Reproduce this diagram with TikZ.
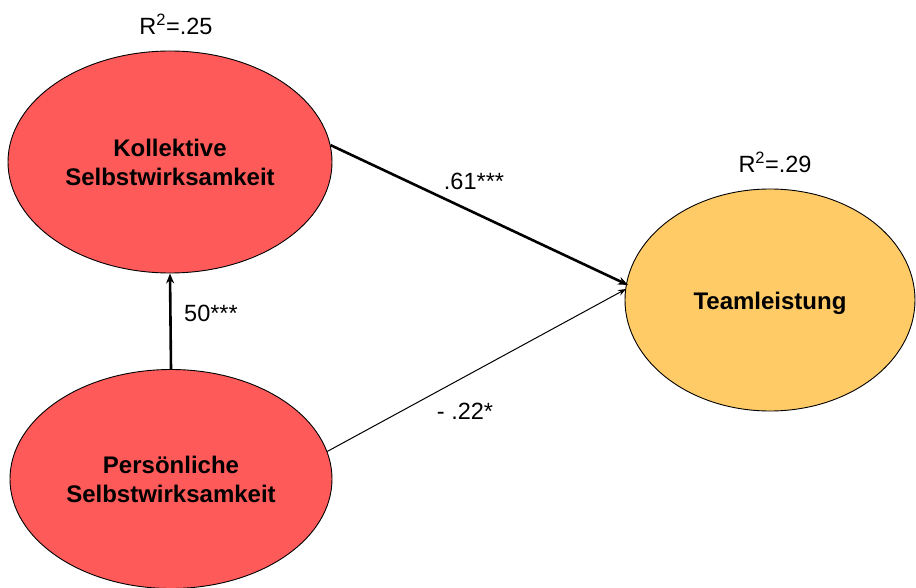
\documentclass[tikz,border=0pt]{standalone}
\usepackage{fontspec}
\setmainfont{Liberation Sans}
\usetikzlibrary{shapes.geometric,arrows.meta}
\definecolor{latentred}{RGB}{255,90,90}
\definecolor{outcomeyellow}{RGB}{254,203,102}
\tikzset{
  latent/.style={ellipse,draw=black,line width=0.9pt,inner sep=0pt,
    font=\fontsize{24}{29}\selectfont\bfseries,align=center},
  coef/.style={font=\fontsize{23.5}{28}\selectfont,inner sep=0pt},
  strongpath/.style={line width=2.6pt,-{Stealth[length=10pt,width=8pt]}},
  weakpath/.style={line width=1pt,-{Stealth[length=8pt,width=6pt]}}
}
\begin{document}
\begin{tikzpicture}[x=1pt,y=-1pt]
\useasboundingbox (0,0) rectangle (916,588);
% constructs
\node[latent,fill=latentred,minimum width=324pt,minimum height=222pt] (kol) at (170,162)
  {Kollektive\\Selbstwirksamkeit};
\node[latent,fill=latentred,minimum width=322pt,minimum height=219pt] (pers) at (171,479)
  {Persönliche\\Selbstwirksamkeit};
\node[latent,fill=outcomeyellow,minimum width=290pt,minimum height=222pt,
      text height=23pt,text depth=5pt] (team) at (770,300)
  {Teamleistung};
% explained variance
\node[coef] (r2kol) at (176,24) {R\textsuperscript{2}=.25};
\node[coef] (r2team) at (775,162) {R\textsuperscript{2}=.29};
% paths
\coordinate (tinA) at (628,285);
\coordinate (tinB) at (626,289);
\draw[strongpath] (kol.6.6) -- (tinA);
\draw[weakpath] (pers.10.8) -- (tinB);
\draw[strongpath] (pers.north) -- (kol.south);
% path coefficients
\node[coef] (c1) at (474,181) {.61***};
\node[coef] (c2) at (211,313) {50***};
\node[coef] (c3) at (465,411) {- .22*};
\end{tikzpicture}
\end{document}
